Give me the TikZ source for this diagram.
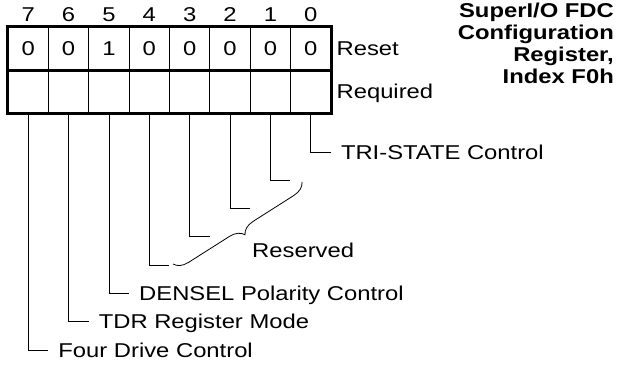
\documentclass[tikz,border=0pt]{standalone}
\usepackage{fontspec}
\setmainfont{Liberation Sans}[FakeStretch=1.19]
\usetikzlibrary{decorations.pathreplacing,positioning}

\tikzset{
  cell/.style={draw, line width=0.8pt, minimum width=40.375pt, minimum height=43pt, inner sep=0pt, font=\fontsize{20}{22}\selectfont},
  lbl/.style={anchor=west, inner xsep=10pt, inner ysep=0pt, text height=14.3pt, text depth=0pt, font=\fontsize{20}{22}\selectfont},
  leader/.style={line width=0.8pt},
}

\begin{document}
\begin{tikzpicture}[x=1pt,y=-1pt]
\useasboundingbox (0,0) rectangle (621,371);

% register cells
\foreach \b/\v [count=\k from 0] in {7/0,6/0,5/1,4/0,3/0,2/0,1/0,0/0} {
  \node[cell] (r\b) at ({28.19+40.375*\k},48.5) {\v};
  \node[cell] (q\b) at ({28.19+40.375*\k},91.5) {};
  \node[anchor=base, inner sep=0pt, font=\fontsize{20}{22}\selectfont] (n\b) at ({28.19+40.375*\k},22) {\b};
}

% frame
\draw[line width=3pt] (r7.north west) rectangle (q0.south east);
\draw[line width=3pt] (r7.south west) -- (r0.south east);

\node[lbl, inner xsep=5pt] (reset) at (r0.east) {Reset};
\node[lbl, inner xsep=5pt] (req) at (q0.east) {Required};

% title
\node[font=\bfseries\fontsize{20}{22}\selectfont, align=right, anchor=base east, inner sep=0pt] (title) at (614,84) {SuperI/O FDC\\Configuration\\Register,\\Index F0h};

% bit 0
\node[lbl] (tri) at (330.8,152) {TRI-STATE Control};
\draw[leader] (q0.south) |- (tri.west);

% reserved bits
\coordinate (e1) at (290.4,180.3);
\coordinate (e2) at (250.1,208.6);
\coordinate (e3) at (209.7,236.9);
\coordinate (e4) at (169.3,265.2);
\foreach \b in {1,2,3,4}
  \draw[leader] (q\b.south) |- (e\b);
\draw[leader, decorate, decoration={brace, amplitude=14pt}] (302,182) -- (173,264);
\node[lbl, inner xsep=0pt] (rsv) at (252,250) {Reserved};

% bits 5-7
\node[lbl] (dens) at (129,293.5) {DENSEL Polarity Control};
\draw[leader] (q5.south) |- (dens.west);
\node[lbl] (tdr) at (88.6,321.8) {TDR Register Mode};
\draw[leader] (q6.south) |- (tdr.west);
\node[lbl] (four) at (48.2,350) {Four Drive Control};
\draw[leader] (q7.south) |- (four.west);
\end{tikzpicture}
\end{document}
